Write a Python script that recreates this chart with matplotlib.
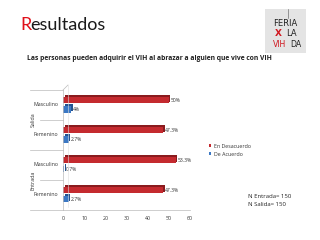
import matplotlib.pyplot as plt
import matplotlib.transforms as mtransforms
from matplotlib.patches import Rectangle
import numpy as np

plt.rcParams['font.family'] = ['Open Sans', 'DejaVu Sans']

categories = ['Masculino', 'Femenino', 'Masculino', 'Femenino']
groups = ['Salida', 'Entrada']
desacuerdo = [50, 47.3, 53.3, 47.3]
de_acuerdo = [4, 2.7, 0.7, 2.7]
desacuerdo_labels = ['50%', '47.3%', '53.3%', '47.3%']
de_acuerdo_labels = ['4%', '2.7%', '0.7%', '2.7%']
xticks = [0, 10, 20, 30, 40, 50, 60]

RED = '#C42A2F'
RED_DARK = '#8A1B1E'
BLUE = '#3B78C4'
BLUE_DARK = '#24538F'
W, H = 320, 240


def fx(px):
    return px / W


def fy(py):
    return 1 - py / H


fig = plt.figure(figsize=(3.2, 2.4), dpi=100)

# title
fig.text(fx(20), fy(30), 'R', color='#E0101A', fontsize=13, va='baseline', ha='left',
         family=['Lato', 'DejaVu Sans'])
fig.text(fx(30.5), fy(30), 'esultados', color='#1a1a1a', fontsize=13, va='baseline', ha='left',
         family=['Lato', 'DejaVu Sans'])
fig.text(fx(27), fy(60), 'Las personas pueden adquirir el VIH al abrazar a alguien que vive con VIH',
         fontsize=4.9, fontweight='bold', color='#222222', va='baseline', ha='left')

# logo
cond = ['DejaVu Sans Condensed', 'DejaVu Sans']
logo = fig.add_axes([fx(265), fy(53), fx(41), (53 - 9) / H])
logo.set_xlim(0, 1)
logo.set_ylim(0, 1)
logo.axis('off')
logo.add_patch(Rectangle((0, 0), 1, 1, color='#E4E4E4'))
logo.plot([0.55, 0.55], [0.8, 1.0], color='#555555', lw=0.4)
logo.text(0.5, 0.67, 'FERIA', ha='center', va='center', fontsize=6, color='#222222', family=cond)
logo.text(0.33, 0.44, 'X', ha='center', va='center', fontsize=6.5, color='#D01820',
          fontweight='bold', family=cond)
logo.text(0.64, 0.44, 'LA', ha='center', va='center', fontsize=6, color='#222222', family=cond)
logo.text(0.36, 0.2, 'VIH', ha='center', va='center', fontsize=5.6, color='#D01820', family=cond)
logo.text(0.74, 0.2, 'DA', ha='center', va='center', fontsize=5.6, color='#222222', family=cond)

# chart
ax = fig.add_axes([fx(63), fy(210), fx(190 - 63), (210 - 90) / H])
y = np.arange(len(categories))
h = 0.22
y_red = y - 0.28 + h / 2
y_blue = y + 0.03 + h / 2

shift = mtransforms.offset_copy(ax.transData, fig=fig, x=1.6, y=1.6, units='dots')
ax.barh(y_red, desacuerdo, height=h, color=RED_DARK, transform=shift, zorder=1)
ax.barh(y_blue, de_acuerdo, height=h, color=BLUE_DARK, transform=shift, zorder=1)
ax.barh(y_red, desacuerdo, height=h, color=RED, zorder=2, label='En Desacuerdo')
ax.barh(y_blue, de_acuerdo, height=h, color=BLUE, zorder=2, label='De Acuerdo')

for yy, v, t in zip(y_red, desacuerdo, desacuerdo_labels):
    ax.text(v + 0.8, yy + 0.02, t, fontsize=3.6, color='#333333', va='center', ha='left')
for yy, v, t in zip(y_blue, de_acuerdo, de_acuerdo_labels):
    ax.text(v + 0.8, yy + 0.02, t, fontsize=3.6, color='#333333', va='center', ha='left')

ax.set_xlim(0, 60)
ax.set_ylim(len(categories) - 0.5, -0.5)
ax.set_xticks(xticks)
ax.set_xticklabels([str(t) for t in xticks], fontsize=3.8, color='#333333')
ax.set_yticks([])
ax.tick_params(axis='x', length=0, pad=4)
for s in ['top', 'right']:
    ax.spines[s].set_visible(False)
ax.spines['left'].set_color('#BBBBBB')
ax.spines['bottom'].set_color('#BBBBBB')
ax.spines['left'].set_linewidth(0.5)
ax.spines['bottom'].set_linewidth(0.5)
ax.patch.set_alpha(0)

# back wall line (3D)
fig.add_artist(plt.Line2D([fx(63), fx(68)], [fy(90), fy(85)], color='#BBBBBB', lw=0.5))
fig.add_artist(plt.Line2D([fx(68), fx(68)], [fy(85), fy(207)], color='#DDDDDD', lw=0.4))

# category labels and separators
for i, cat in enumerate(categories):
    fig.text(fx(58), fy(105 + 30 * i), cat, fontsize=3.8, color='#333333', ha='right', va='center')
for py, x0 in [(90, 30), (120, 40), (150, 30), (180, 40), (210, 30)]:
    fig.add_artist(plt.Line2D([fx(x0), fx(63)], [fy(py), fy(py)], color='#BBBBBB', lw=0.5))
fig.text(fx(33), fy(120), groups[0], fontsize=3.8, color='#333333', rotation=90, ha='center', va='center')
fig.text(fx(33), fy(180), groups[1], fontsize=3.8, color='#333333', rotation=90, ha='center', va='center')

# legend
fig.legend(loc='upper left', bbox_to_anchor=(fx(206), fy(141)), frameon=False, fontsize=3.8,
           handlelength=0.5, handleheight=0.5, handletextpad=0.5, labelspacing=0.6,
           borderpad=0, labelcolor='#333333')

fig.text(fx(248), fy(198), 'N Entrada= 150', fontsize=4.3, color='#222222', ha='left', va='baseline')
fig.text(fx(248), fy(206), 'N Salida= 150', fontsize=4.3, color='#222222', ha='left', va='baseline')

fig.savefig('out.png', dpi=100)
